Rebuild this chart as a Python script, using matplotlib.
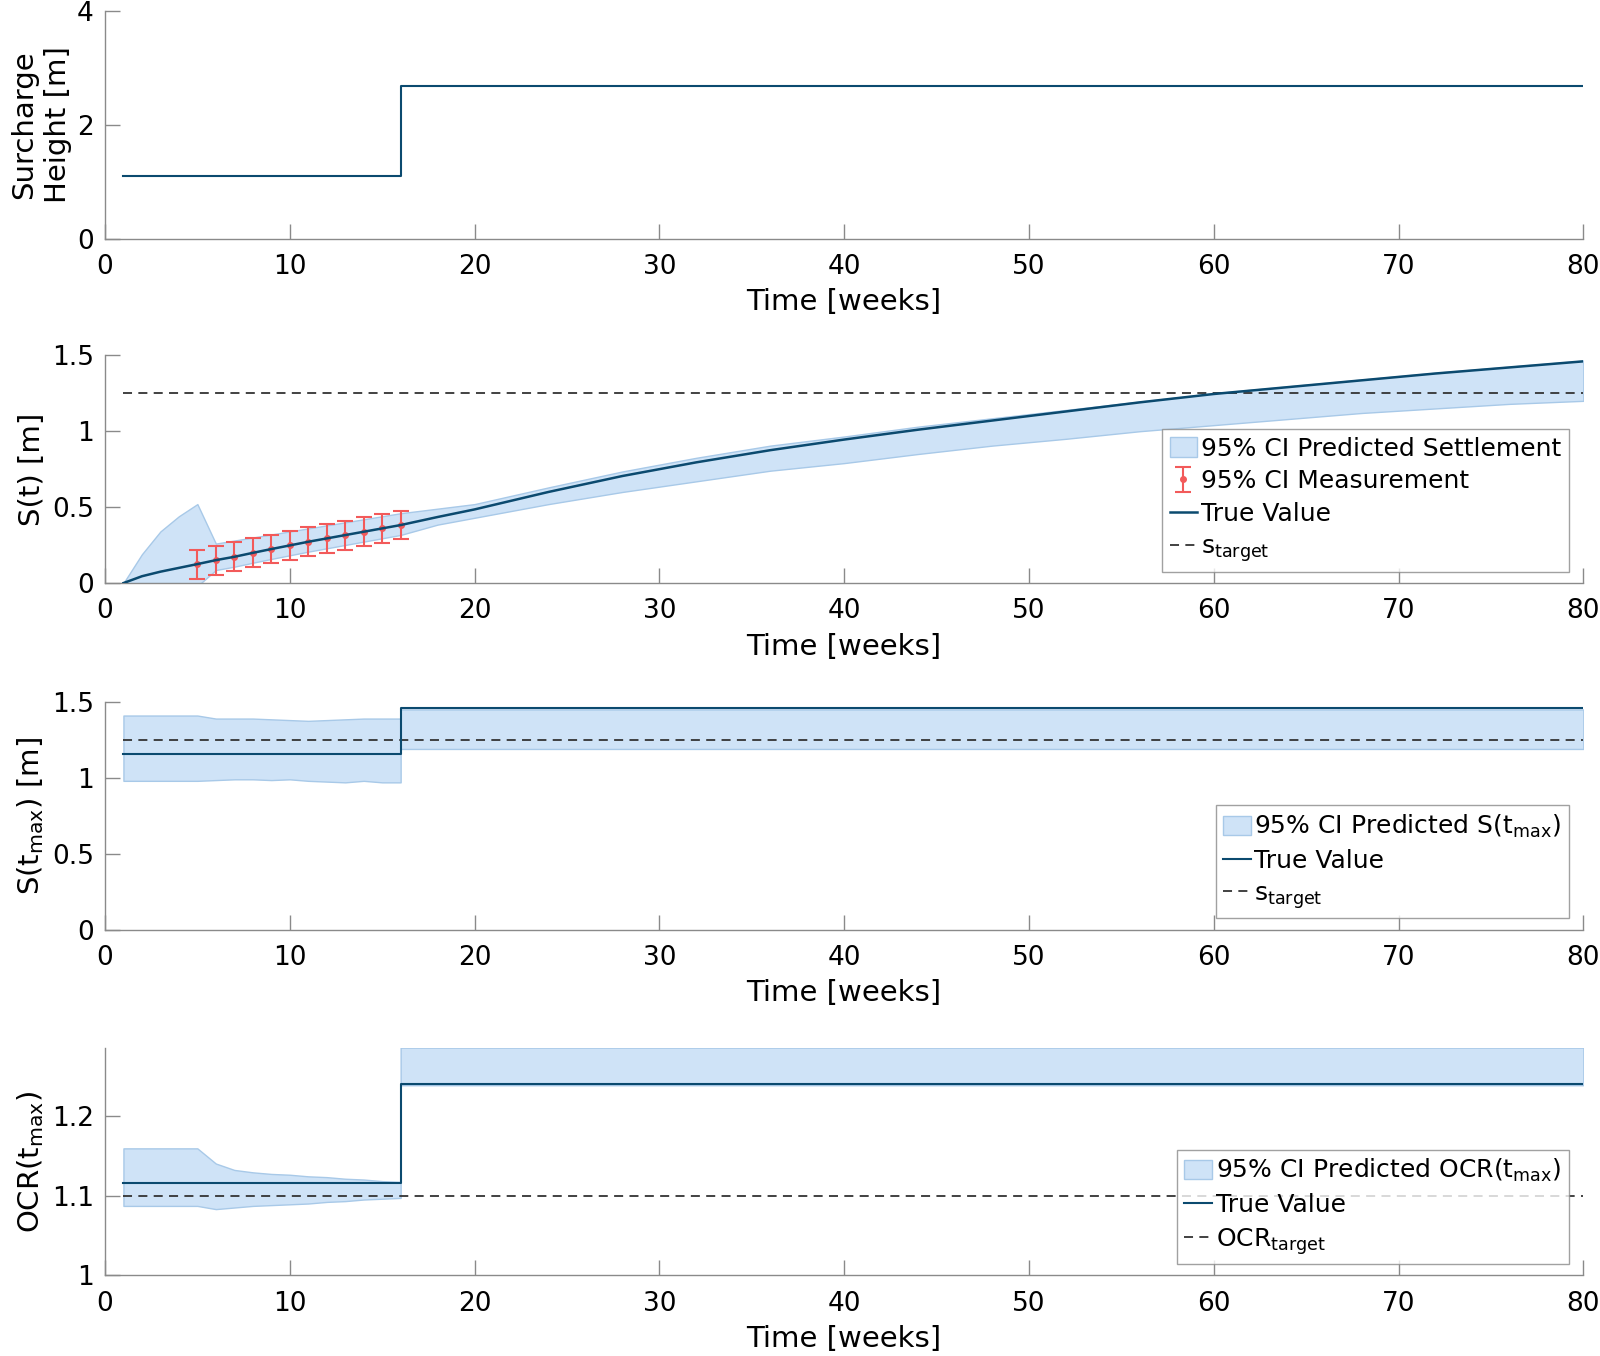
import matplotlib
matplotlib.use("Agg")
import matplotlib.pyplot as plt
import numpy as np

# ── Style ─────────────────────────────────────────────────────────────────────
plt.rcParams['font.family'] = ['DejaVu Sans']
plt.rcParams['mathtext.fontset'] = 'dejavusans'
plt.rcParams['font.size'] = 19

LINE_C = '#0b4a6f'
FILL_C = '#cfe3f7'
EDGE_C = '#a8c9e8'
ERR_C = '#f25a5a'
AX_C = '#8a8a8a'
DASH_C = '#333333'
DASHES = (5, 3.5)

# ── Data ──────────────────────────────────────────────────────────────────────
# surcharge height (step at week 16)
sur_weeks = [1, 16, 80]
sur_height = [1.10, 2.68, 2.68]

# settlement S(t): true value and 95% CI band
s_weeks = [1, 2, 3, 4, 5, 6, 7, 8, 9, 10, 11, 12, 13, 14, 15, 16,
           18, 20, 24, 28, 32, 36, 40, 44, 48, 52, 56, 60, 64, 68, 72, 76, 80]
s_true = [0.0, 0.045, 0.075, 0.10, 0.125, 0.151, 0.173, 0.199, 0.224, 0.248,
          0.272, 0.294, 0.316, 0.338, 0.360, 0.382,
          0.435, 0.485, 0.60, 0.705, 0.795, 0.875, 0.945, 1.01, 1.07, 1.13,
          1.19, 1.245, 1.29, 1.335, 1.38, 1.42, 1.46]
s_upper = [0.0, 0.19, 0.34, 0.44, 0.52, 0.26, 0.28, 0.30, 0.32, 0.34,
           0.36, 0.38, 0.40, 0.42, 0.44, 0.46,
           0.49, 0.52, 0.63, 0.735, 0.825, 0.905, 0.965, 1.03, 1.085, 1.14,
           1.195, 1.25, 1.295, 1.34, 1.385, 1.425, 1.465]
s_lower = [0.0, 0.0, 0.0, 0.0, -0.02, 0.086, 0.108, 0.134, 0.159, 0.183,
           0.207, 0.229, 0.251, 0.273, 0.295, 0.317,
           0.385, 0.43, 0.52, 0.60, 0.67, 0.74, 0.79, 0.85, 0.905, 0.95,
           1.00, 1.04, 1.08, 1.12, 1.15, 1.18, 1.20]

# measurements with 95% CI
meas_weeks = [5, 6, 7, 8, 9, 10, 11, 12, 13, 14, 15, 16]
meas_val = [0.125, 0.151, 0.173, 0.199, 0.224, 0.248, 0.272, 0.294, 0.316,
            0.338, 0.360, 0.382]
meas_err = [0.095] * 12

s_target = 1.25

# predicted S(t_max)
smax_weeks = [1, 16, 80]
smax_true = [1.16, 1.46, 1.46]
smax_band_weeks = [1, 2, 3, 4, 5, 6, 7, 8, 9, 10, 11, 12, 13, 14, 15, 16, 16, 80]
smax_upper = [1.41, 1.41, 1.41, 1.41, 1.41, 1.39, 1.39, 1.39, 1.385, 1.38,
              1.375, 1.38, 1.385, 1.39, 1.39, 1.39, 1.45, 1.45]
smax_lower = [0.98, 0.98, 0.98, 0.98, 0.98, 0.985, 0.99, 0.99, 0.985, 0.99,
              0.98, 0.975, 0.97, 0.98, 0.97, 0.97, 1.19, 1.19]

# predicted OCR(t_max)
ocr_weeks = [1, 16, 80]
ocr_true = [1.116, 1.239, 1.239]
ocr_band_weeks = [1, 2, 3, 4, 5, 6, 7, 8, 9, 10, 11, 12, 13, 14, 15, 16, 16, 80]
ocr_upper = [1.159, 1.159, 1.159, 1.159, 1.159, 1.14, 1.132, 1.129, 1.127,
             1.126, 1.124, 1.123, 1.121, 1.12, 1.118, 1.117, 1.285, 1.285]
ocr_lower = [1.087, 1.087, 1.087, 1.087, 1.087, 1.083, 1.085, 1.087, 1.088,
             1.089, 1.09, 1.092, 1.093, 1.095, 1.096, 1.097, 1.238, 1.238]
ocr_target = 1.10

# ── Figure ────────────────────────────────────────────────────────────────────
fig = plt.figure(figsize=(16, 13.56), dpi=100)
left, width, height = 0.0656, 0.924, 0.168
bottoms = [0.824, 0.570, 0.3144, 0.0594]
axes = [fig.add_axes([left, b, width, height]) for b in bottoms]


def style(ax):
    for side in ['top', 'right']:
        ax.spines[side].set_visible(False)
    for side in ['left', 'bottom']:
        ax.spines[side].set_color(AX_C)
        ax.spines[side].set_linewidth(1.0)
    ax.tick_params(direction='in', length=11, width=1.0, color=AX_C,
                   labelsize=19)
    ax.tick_params(axis='x', pad=11)
    ax.tick_params(axis='y', pad=8)
    ax.set_xlim(0, 80)
    ax.set_xticks(range(0, 81, 10))
    ax.set_xlabel('Time [weeks]', fontsize=21, labelpad=6)


def legend(ax, handles, labels, y0):
    leg = ax.legend(handles, labels, loc='lower right',
                    bbox_to_anchor=(0.99, y0), fontsize=18, frameon=True,
                    fancybox=False, edgecolor=AX_C, handlelength=1.1,
                    handleheight=0.8, handletextpad=0.15, labelspacing=0.35,
                    borderpad=0.3, borderaxespad=0)
    leg.get_frame().set_linewidth(1.0)


def target(ax, value):
    ln, = ax.plot([1, 80], [value, value], '--', color=DASH_C, lw=1.3)
    ln.set_dashes(DASHES)
    return ln


# 1. surcharge height
ax = axes[0]
ax.plot(sur_weeks, sur_height, color=LINE_C, lw=1.5, drawstyle='steps-post')
ax.set_ylim(0, 4)
ax.set_yticks([0, 2, 4])
ax.set_ylabel('Surcharge\nHeight [m]', fontsize=21, linespacing=1.25)
style(ax)

# 2. settlement over time
ax = axes[1]
band = ax.fill_between(s_weeks, s_lower, s_upper, facecolor=FILL_C,
                       edgecolor=EDGE_C, lw=1.0)
err = ax.errorbar(meas_weeks, meas_val, yerr=meas_err, fmt='o', ms=4,
                  color=ERR_C, ecolor=ERR_C, elinewidth=1.5, capsize=6,
                  capthick=1.5, zorder=3)
true, = ax.plot(s_weeks, s_true, color=LINE_C, lw=1.8, zorder=4)
tgt = target(ax, s_target)
ax.set_ylim(0, 1.5)
ax.set_yticks([0, 0.5, 1, 1.5])
ax.set_yticklabels(['0', '0.5', '1', '1.5'])
ax.set_ylabel('S(t) [m]', fontsize=21)
style(ax)
legend(ax, [band, err, true, tgt],
       ['95% CI Predicted Settlement', '95% CI Measurement', 'True Value',
        r'$\mathregular{s_{target}}$'], 0.05)

# 3. predicted final settlement
ax = axes[2]
band = ax.fill_between(smax_band_weeks, smax_lower, smax_upper,
                       facecolor=FILL_C, edgecolor=EDGE_C, lw=1.0)
true, = ax.plot(smax_weeks, smax_true, color=LINE_C, lw=1.5,
                drawstyle='steps-post', zorder=4)
tgt = target(ax, s_target)
ax.set_ylim(0, 1.5)
ax.set_yticks([0, 0.5, 1, 1.5])
ax.set_yticklabels(['0', '0.5', '1', '1.5'])
ax.set_ylabel(r'S(t$_{\mathregular{max}}$) [m]', fontsize=21)
style(ax)
legend(ax, [band, true, tgt],
       [r'95% CI Predicted S(t$_{\mathregular{max}}$)', 'True Value',
        r'$\mathregular{s_{target}}$'], 0.05)

# 4. predicted OCR
ax = axes[3]
band = ax.fill_between(ocr_band_weeks, ocr_lower, ocr_upper,
                       facecolor=FILL_C, edgecolor=EDGE_C, lw=1.0)
true, = ax.plot(ocr_weeks, ocr_true, color=LINE_C, lw=1.5,
                drawstyle='steps-post', zorder=4)
tgt = target(ax, ocr_target)
ax.set_ylim(1, 1.285)
ax.set_yticks([1, 1.1, 1.2])
ax.set_yticklabels(['1', '1.1', '1.2'])
ax.set_ylabel(r'OCR(t$_{\mathregular{max}}$)', fontsize=21)
style(ax)
legend(ax, [band, true, tgt],
       [r'95% CI Predicted OCR(t$_{\mathregular{max}}$)', 'True Value',
        r'$\mathregular{OCR_{target}}$'], 0.05)

fig.savefig('out.png', dpi=100)
